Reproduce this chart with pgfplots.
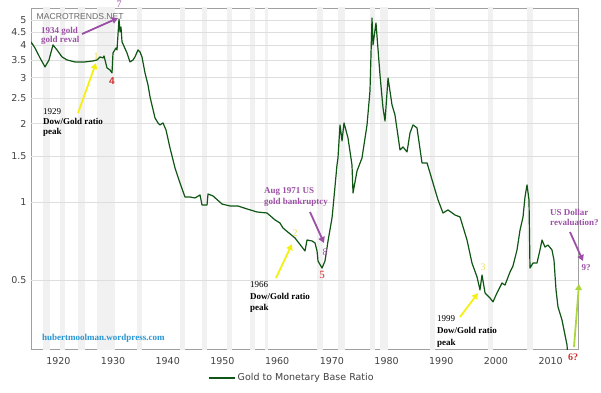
\documentclass[border=0pt]{standalone}
\usepackage{fontspec}
\setmainfont{Liberation Serif}
\setsansfont{DejaVu Sans}
\newfontfamily\arialfont{Liberation Sans}
\usepackage{pgfplots}
\usepackage{pgfplotstable}
\pgfplotsset{compat=1.18}
\usetikzlibrary{arrows.meta}
\definecolor{lineg}{RGB}{15,85,20}
\definecolor{band}{RGB}{241,241,241}
\definecolor{gridc}{RGB}{222,222,222}
\definecolor{framec}{RGB}{160,160,160}
\definecolor{tickc}{RGB}{65,65,65}
\definecolor{purp}{RGB}{155,80,165}
\definecolor{yel}{RGB}{245,240,20}
\definecolor{yellab}{RGB}{232,222,90}
\definecolor{redc}{RGB}{210,45,45}
\definecolor{bluec}{RGB}{40,150,210}
\definecolor{lgreen}{RGB}{170,215,60}
\definecolor{mtgray}{RGB}{105,105,105}

\pgfplotstableread{
year value
1915.00 4.125
1915.73 3.911
1916.65 3.580
1917.56 3.306
1918.29 3.517
1919.02 4.017
1919.75 3.842
1920.67 3.612
1921.58 3.517
1923.04 3.455
1924.87 3.455
1926.33 3.485
1927.07 3.517
1927.61 3.612
1928.16 3.580
1928.35 3.643
1928.89 3.277
1929.44 3.219
1929.81 3.135
1929.99 3.742
1930.54 3.911
1930.72 3.842
1931.09 5.056
1931.27 4.506
1931.45 4.710
1931.64 4.125
1932.55 3.742
1933.10 3.455
1933.65 3.517
1934.01 3.612
1934.56 3.842
1934.93 3.775
1935.29 3.612
1935.84 3.135
1936.39 2.818
1936.76 2.534
1937.67 2.104
1938.22 2.013
1938.58 1.978
1939.13 2.013
1939.68 1.892
1940.41 1.613
1941.33 1.351
1942.24 1.183
1943.15 1.045
1944.07 1.045
1944.98 1.036
1945.90 1.064
1946.26 0.974
1947.18 0.974
1947.36 1.073
1948.27 1.055
1949.92 0.982
1951.38 0.965
1952.84 0.965
1954.49 0.940
1956.32 0.915
1958.14 0.907
1959.61 0.853
1960.52 0.830
1961.07 0.794
1963.26 0.727
1965.09 0.648
1965.46 0.714
1966.37 0.708
1966.92 0.696
1967.29 0.648
1967.47 0.593
1968.20 0.557
1968.75 0.593
1969.30 0.708
1970.03 0.868
1970.21 0.948
1970.94 1.388
1971.12 1.476
1971.49 1.978
1971.86 1.717
1972.22 2.013
1972.95 1.763
1973.68 1.388
1973.87 1.083
1974.60 1.316
1975.51 1.476
1976.43 1.978
1976.97 2.673
1977.34 5.102
1977.52 4.017
1978.07 4.880
1978.80 3.080
1979.35 2.299
1979.72 2.049
1980.27 2.999
1981.00 2.361
1981.54 2.161
1982.46 1.585
1983.01 1.628
1983.74 1.557
1984.29 1.843
1984.84 1.978
1985.57 1.926
1986.48 1.413
1987.40 1.413
1988.49 1.183
1989.41 1.018
1990.32 0.907
1991.23 0.932
1992.51 0.891
1993.43 0.876
1994.71 0.714
1995.62 0.582
1996.54 0.515
1997.08 0.459
1997.45 0.524
1998.00 0.447
1998.91 0.427
1999.46 0.413
2000.19 0.447
2001.10 0.488
2001.65 0.479
2002.57 0.538
2003.11 0.567
2003.85 0.654
2004.40 0.780
2004.95 0.876
2005.31 1.045
2005.68 1.163
2006.04 1.018
2006.22 0.557
2006.77 0.582
2007.50 0.582
2008.05 0.654
2008.42 0.714
2008.96 0.671
2009.51 0.683
2010.24 0.654
2010.61 0.598
2010.98 0.459
2011.34 0.395
2012.07 0.352
2012.62 0.308
2012.99 0.282
2013.05 0.270
}\goldtable

\newcommand{\band}[2]{\addplot[fill=band,draw=none,forget plot] coordinates {(#1,0.2) (#2,0.2) (#2,7) (#1,7)};}

\begin{document}
\begin{tikzpicture}
\useasboundingbox (0pt,0pt) rectangle (601pt,392pt);
\begin{axis}[
  at={(31pt,43pt)}, anchor=south west,
  width=547pt, height=341pt, scale only axis,
  xmin=1915, xmax=2015,
  ymode=log, ymin=0.272, ymax=5.57,
  xtick={1920,1930,1940,1950,1960,1970,1980,1990,2000,2010},
  xticklabels={1920,1930,1940,1950,1960,1970,1980,1990,2000,2010},
  ytick={0.5,1,1.5,2,2.5,3,3.5,4,4.5,5},
  yticklabels={0.5,1,1.5,2,2.5,3,3.5,4,4.5,5},
  minor ytick={},
  major tick length=0pt,
  axis line style={framec, line width=0.7pt},
  ticklabel style={font=\sffamily\fontsize{9.5}{10}\selectfont, text=tickc},
  xticklabel style={yshift=-5pt},
  yticklabel style={xshift=-1pt},
  legend style={at={(0.477,-0.085)}, anchor=center, draw=none, fill=none,
    font=\sffamily\fontsize{9.5}{10}\selectfont, text=tickc},
  legend image code/.code={\draw[lineg, line width=1.5pt] (0pt,0pt) -- (26pt,0pt);},
]
\band{1917.19}{1918.47}
\band{1920.30}{1921.22}
\band{1923.59}{1924.87}
\band{1927.07}{1930.36}
\band{1934.38}{1935.29}
\band{1942.24}{1943.15}
\band{1946.26}{1947.18}
\band{1950.83}{1951.75}
\band{1955.04}{1955.95}
\band{1957.78}{1958.33}
\band{1967.29}{1968.38}
\band{1971.13}{1972.40}
\band{1976.97}{1977.89}
\band{1978.80}{1980.27}
\band{1987.94}{1988.86}
\band{1998.55}{1999.46}
\band{2005.68}{2006.77}
\pgfplotsinvokeforeach{0.5,1,1.5,2,2.5,3,3.5,4,4.5,5}{
  \addplot[gridc, line width=0.8pt, forget plot] coordinates {(1915,#1) (2015,#1)};
}
\addplot[lineg, line width=1.2pt, line join=round] table[x=year,y=value] {\goldtable};
\addlegendentry{Gold to Monetary Base Ratio}
\end{axis}

\begin{scope}[x=1pt,y=1pt]
\tikzset{arr/.style={line width=1.8pt, -{Triangle[length=6pt,width=6.5pt]}}}
\node[anchor=base west, inner sep=0, text=mtgray, font=\arialfont\fontsize{8.6}{9}\selectfont] at (36.5,372.5) {MACROTRENDS.NET};
\node[anchor=base west, inner sep=0, text=purp, font=\bfseries\fontsize{9}{10}\selectfont] at (41,359) {1934 gold};
\node[anchor=base west, inner sep=0, text=purp, font=\bfseries\fontsize{9}{10}\selectfont] at (41,349.5) {gold reval};
\draw[arr, purp] (82,358) -- (118,374);
\node[text=purp, font=\fontsize{10}{10}\selectfont, inner sep=0] at (119,388) {7};
\draw[arr, yel] (78,279) -- (96,329);
\node[text=yellab, font=\fontsize{10}{10}\selectfont, inner sep=0] at (96,336) {1};
\node[text=redc, font=\arialfont\bfseries\fontsize{10}{10}\selectfont, inner sep=0] at (112,311) {4};
\node[anchor=base west, inner sep=0, font=\fontsize{9}{10}\selectfont] at (43,278) {1929};
\node[anchor=base west, inner sep=0, font=\bfseries\fontsize{9}{10}\selectfont] at (43,268) {Dow/Gold ratio};
\node[anchor=base west, inner sep=0, font=\bfseries\fontsize{9}{10}\selectfont] at (43,258) {peak};
\node[anchor=base west, inner sep=0, text=bluec, font=\bfseries\fontsize{9}{10}\selectfont] at (42,52) {hubertmoolman.wordpress.com};
\draw[arr, yel] (276,114) -- (292,148);
\node[text=yellab, font=\fontsize{10}{10}\selectfont, inner sep=0] at (295,159) {2};
\node[anchor=base west, inner sep=0, font=\fontsize{9}{10}\selectfont] at (250,104.5) {1966};
\node[anchor=base west, inner sep=0, font=\bfseries\fontsize{9}{10}\selectfont] at (250,93) {Dow/Gold ratio};
\node[anchor=base west, inner sep=0, font=\bfseries\fontsize{9}{10}\selectfont] at (250,82) {peak};
\node[anchor=base west, inner sep=0, text=purp, font=\bfseries\fontsize{9}{10}\selectfont] at (264,198.5) {Aug 1971 US};
\node[anchor=base west, inner sep=0, text=purp, font=\bfseries\fontsize{9}{10}\selectfont] at (264,187.5) {gold bankruptcy};
\draw[arr, purp] (310,180) -- (324,149);
\node[text=purp, font=\fontsize{10}{10}\selectfont, inner sep=0] at (325,140) {8};
\node[text=redc, font=\fontsize{11}{11}\selectfont, inner sep=0] at (322,117) {5};
\draw[arr, yel] (460,75) -- (478,99);
\node[text=yellab, font=\fontsize{10}{10}\selectfont, inner sep=0] at (483,125) {3};
\node[anchor=base west, inner sep=0, font=\fontsize{9}{10}\selectfont] at (437,70.5) {1999};
\node[anchor=base west, inner sep=0, font=\bfseries\fontsize{9}{10}\selectfont] at (437,58.5) {Dow/Gold ratio};
\node[anchor=base west, inner sep=0, font=\bfseries\fontsize{9}{10}\selectfont] at (437,47) {peak};
\node[anchor=base west, inner sep=0, text=purp, font=\bfseries\fontsize{9}{10}\selectfont] at (550,176.5) {US Dollar};
\node[anchor=base west, inner sep=0, text=purp, font=\bfseries\fontsize{9}{10}\selectfont] at (550,166.5) {revaluation?};
\draw[arr, purp] (570,160) -- (583,131);
\node[text=purp, font=\bfseries\fontsize{9}{10}\selectfont, inner sep=0] at (586,124) {9?};
\draw[arr, lgreen] (574,45) -- (579,108);
\node[text=redc, font=\bfseries\fontsize{10}{10}\selectfont, inner sep=0] at (573,35) {6?};
\end{scope}
\end{tikzpicture}
\end{document}
